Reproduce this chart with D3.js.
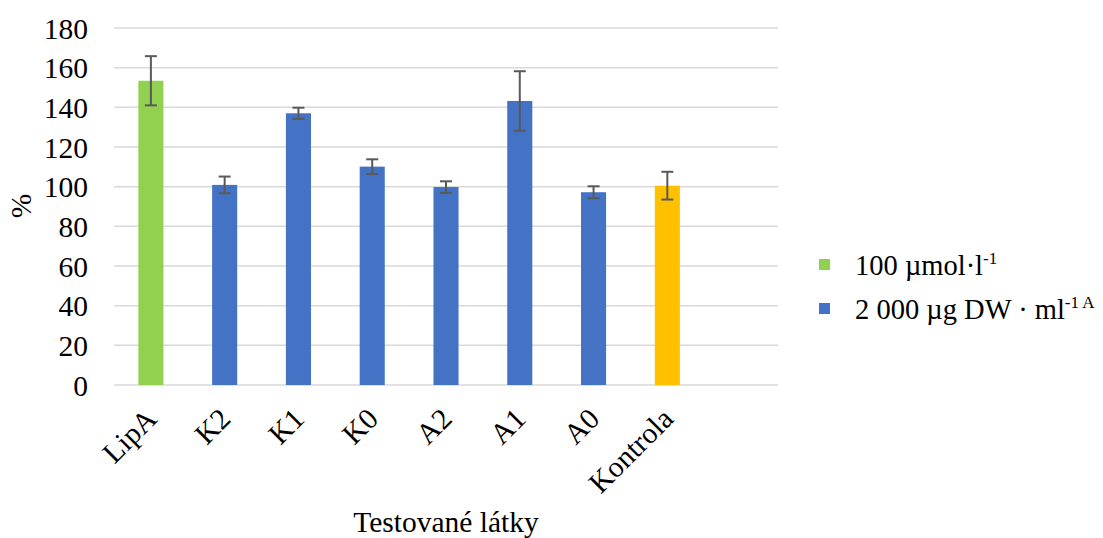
<!DOCTYPE html>
<html>
<head>
<meta charset="utf-8">
<script src="https://cdn.jsdelivr.net/npm/d3@7"></script>
<style>
  html, body { margin: 0; padding: 0; background: #fff; }
  svg { display: block; font-family: "Liberation Serif", "Times New Roman", serif; }
</style>
</head>
<body>
<svg id="chart" width="1103" height="538"></svg>
<script>
// Relative activity (%) of the tested substances
const categories = ["LipA", "K2", "K1", "K0", "A2", "A1", "A0", "Kontrola", ""];
const values     = [153.4, 100.9, 137.0, 110.1, 99.8, 143.2, 97.2, 100.5, null];
const errors     = [12.4, 4.2, 2.8, 3.7, 2.9, 15.0, 3.0, 7.0, null];
const groups     = ["lipa", "extract", "extract", "extract", "extract", "extract", "extract", "control", null];
const yTicks     = [0, 20, 40, 60, 80, 100, 120, 140, 160, 180];

const groupColor = { lipa: "#92D050", extract: "#4472C4", control: "#FFC000" };
const FS = 29.5;

const svg = d3.select("#chart");
const margin = { left: 114, right: 325, top: 28, bottom: 153 };
const W = 1103, H = 538;
const plotW = W - margin.left - margin.right;
const plotH = H - margin.top - margin.bottom;

const x = d3.scaleBand().domain(d3.range(categories.length)).range([0, plotW]).paddingInner(0.66).paddingOuter(0.33);
const y = d3.scaleLinear().domain([0, 180]).range([plotH, 0]);

const g = svg.append("g").attr("transform", `translate(${margin.left},${margin.top})`);

// gridlines
g.append("g")
  .selectAll("line")
  .data(yTicks)
  .join("line")
  .attr("x1", 0).attr("x2", plotW)
  .attr("y1", d => y(d)).attr("y2", d => y(d))
  .attr("stroke", "#d9d9d9").attr("stroke-width", 1.5);

// y axis labels
const yAxis = g.append("g").attr("transform", "translate(-26,0)")
  .call(d3.axisLeft(y).tickValues(yTicks).tickSize(0).tickPadding(0));
yAxis.select(".domain").remove();
yAxis.selectAll("text")
  .attr("font-family", "Liberation Serif, Times New Roman, serif")
  .attr("font-size", FS).attr("fill", "#000").attr("dy", "0.34em");

// bars
const data = categories.map((c, i) => ({ i, c, v: values[i], e: errors[i], grp: groups[i] }))
  .filter(d => d.v !== null);

g.append("g").selectAll("rect")
  .data(data)
  .join("rect")
  .attr("x", d => x(d.i))
  .attr("width", x.bandwidth())
  .attr("y", d => y(d.v))
  .attr("height", d => y(0) - y(d.v))
  .attr("fill", d => groupColor[d.grp]);

// error bars
const eb = g.append("g").attr("stroke", "#595959").attr("stroke-width", 2);
data.forEach(d => {
  const cx = x(d.i) + x.bandwidth() / 2;
  const cap = 6;
  eb.append("line").attr("x1", cx).attr("x2", cx).attr("y1", y(d.v + d.e)).attr("y2", y(d.v - d.e));
  eb.append("line").attr("x1", cx - cap).attr("x2", cx + cap).attr("y1", y(d.v + d.e)).attr("y2", y(d.v + d.e));
  eb.append("line").attr("x1", cx - cap).attr("x2", cx + cap).attr("y1", y(d.v - d.e)).attr("y2", y(d.v - d.e));
});

// category labels, rotated
g.append("g").selectAll("text")
  .data(categories.map((c, i) => ({ c, i })).filter(d => d.c))
  .join("text")
  .attr("transform", d => `translate(${x(d.i) + x.bandwidth() / 2 - 7},${plotH + 21}) rotate(-45)`)
  .attr("text-anchor", "end")
  .attr("dy", "0.7em")
  .attr("font-size", FS)
  .attr("fill", "#000")
  .text(d => d.c);

// axis titles
svg.append("text")
  .attr("x", margin.left + plotW / 2).attr("y", 532)
  .attr("text-anchor", "middle").attr("font-size", FS).attr("fill", "#000")
  .text("Testované látky");

svg.append("text")
  .attr("transform", `translate(31,206) rotate(-90)`)
  .attr("text-anchor", "middle").attr("font-size", FS).attr("fill", "#000")
  .text("%");

// legend
const legend = svg.append("g").attr("transform", "translate(819,0)");
const legendItems = [
  { grp: "lipa", y: 265, main: "100 µmol·l", sup: "-1" },
  { grp: "extract", y: 309, main: "2 000 µg DW · ml", sup: "-1 A" }
];
legendItems.forEach(it => {
  legend.append("rect").attr("x", 0).attr("y", it.y - 6).attr("width", 11).attr("height", 11)
    .attr("fill", groupColor[it.grp]);
  const t = legend.append("text").attr("x", 36).attr("y", it.y + 10)
    .attr("font-size", 28.5).attr("fill", "#000");
  t.append("tspan").text(it.main);
  t.append("tspan").attr("font-size", 17).attr("dy", -11).text(it.sup);
});
</script>
</body>
</html>
